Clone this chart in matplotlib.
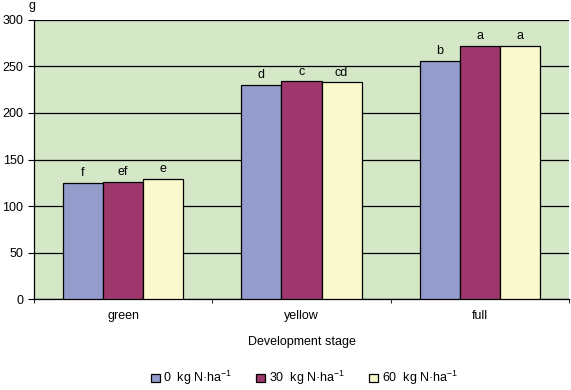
import numpy as np
import matplotlib
matplotlib.use('Agg')
import matplotlib.pyplot as plt

plt.rcParams['font.family'] = ['Liberation Sans', 'DejaVu Sans']
plt.rcParams['mathtext.default'] = 'regular'

stages = ['green', 'yellow', 'full']
doses = ['0', '30', '60']
n0 = [125, 230, 256]
n30 = [126, 234, 272]
n60 = [129, 233, 272]
letters0 = ['f', 'd', 'b']
letters30 = ['ef', 'c', 'a']
letters60 = ['e', 'cd', 'a']

colors = ['#939CCB', '#9E376C', '#FAF8CD']
fs = 9

fig = plt.figure(figsize=(5.71, 3.9), dpi=100)
ax = fig.add_axes([0.0595, 0.233, 0.937, 0.716])
ax.set_facecolor('#D4E8C8')

x = np.arange(len(stages))
w = 0.225
series = [n0, n30, n60]
labs = [letters0, letters30, letters60]
for i, (vals, lt) in enumerate(zip(series, labs)):
    pos = x + (i - 1) * w
    ax.bar(pos, vals, w, color=colors[i], edgecolor='black', linewidth=0.9,
           label=doses[i] + '  kg N·ha$^{-1}$', zorder=3)
    for p, v, t in zip(pos, vals, lt):
        ax.text(p, v + 4, t, ha='center', va='bottom', fontsize=fs, zorder=4)

ax.set_xlim(-0.5, 2.5)
ax.set_ylim(0, 300)
ax.set_yticks(range(0, 301, 50))
ax.yaxis.grid(True, color='black', linewidth=0.9, zorder=0)
ax.set_axisbelow(True)
ax.set_xticks(x)
ax.set_xticklabels(stages)
ax.set_xticks([-0.5, 0.5, 1.5, 2.5], minor=True)
ax.tick_params(axis='x', which='major', length=0, labelsize=fs, pad=8)
ax.tick_params(axis='x', which='minor', length=3, color='black')
ax.tick_params(axis='y', length=4, labelsize=fs, direction='out')
for s in ['top', 'right']:
    ax.spines[s].set_visible(False)
ax.spines['left'].set_linewidth(0.9)
ax.spines['bottom'].set_linewidth(0.9)

ax.set_xlabel('Development stage', fontsize=fs, labelpad=10)
ax.text(-0.003, 1.03, 'g', transform=ax.transAxes, ha='center', va='bottom', fontsize=fs)

fig.legend(loc='lower center', bbox_to_anchor=(0.533, -0.022), ncol=3, frameon=False,
           fontsize=fs, handlelength=0.7, handleheight=0.7, handletextpad=0.3,
           columnspacing=1.9)

fig.savefig('out.png', dpi=100)
